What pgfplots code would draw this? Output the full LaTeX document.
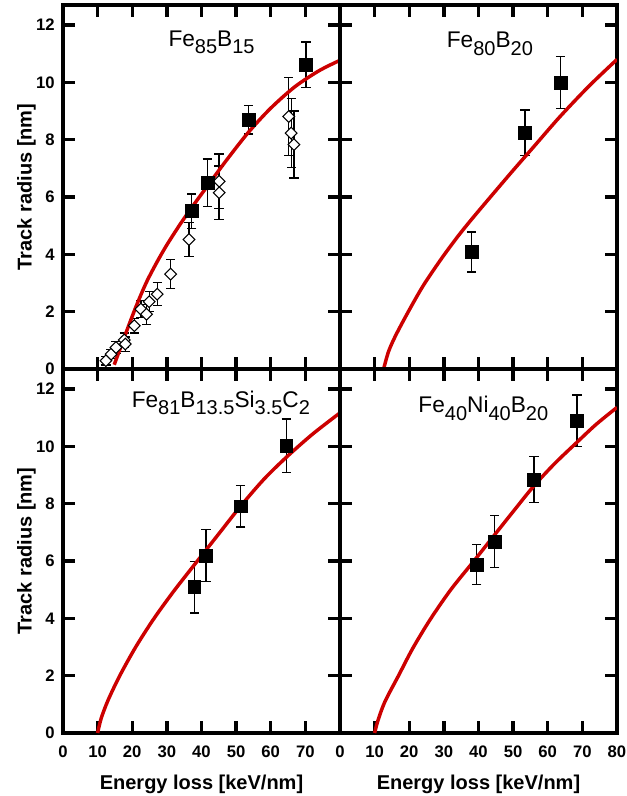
\documentclass[border=0pt]{standalone}
\usepackage{fontspec}
\setmainfont{Liberation Sans}
\usepackage{pgfplots}
\pgfplotsset{compat=1.18}
\usepackage{pgfplotstable}
\usepgfplotslibrary{groupplots}
\usetikzlibrary{calc}

\definecolor{fitred}{RGB}{204,0,0}
\newcommand{\sub}[1]{\raisebox{-5.5pt}{\fontsize{15}{15}\selectfont #1}}
% inward ticks drawn inside the current axis (9pt = 3.46 x-units = 0.42 y-units)
\newcommand{\boxticks}{%
  \pgfplotsinvokeforeach{10,20,30,40,50,60,70}{
    \draw[black, line width=2.6pt] (axis cs:##1,0) -- (axis cs:##1,0.42);
    \draw[black, line width=2.6pt] (axis cs:##1,12.7) -- (axis cs:##1,12.28);
  }
  \pgfplotsinvokeforeach{2,4,6,8,10,12}{
    \draw[black, line width=2.6pt] (axis cs:0,##1) -- (axis cs:3.46,##1);
    \draw[black, line width=2.6pt] (axis cs:80,##1) -- (axis cs:76.54,##1);
  }}

% Fe85B15
\pgfplotstableread{
x y e
37.2 5.51 0.60
41.7 6.50 0.83
53.6 8.70 0.50
70.2 10.61 0.80
}\sqA
\pgfplotstableread{
x y e
12.4 0.29 0.15
13.9 0.52 0.15
15.3 0.75 0.20
17.7 1.01 0.25
18.0 0.87 0.25
20.6 1.51 0.25
22.5 2.09 0.30
24.1 1.91 0.35
24.9 2.35 0.35
27.2 2.61 0.40
31.1 3.31 0.50
36.4 4.52 0.60
45.1 6.15 0.93
45.1 6.55 0.95
65.2 8.81 1.35
65.9 8.23 1.20
66.7 7.83 1.17
}\diaA
\pgfplotstableread{
x y
14.8 0.15
18.0 1.20
21.0 2.15
24.0 3.00
27.0 3.70
30.0 4.33
34.0 5.08
38.0 5.77
42.0 6.43
47.0 7.25
53.5 8.25
60.0 9.10
67.0 9.85
74.0 10.41
80.0 10.77
}\fitA
% Fe80B20
\pgfplotstableread{
x y e
38.0 4.08 0.70
53.4 8.24 0.80
63.7 10.00 0.90
}\sqB
\pgfplotstableread{
x y
12.6 0
14.0 0.60
16.0 1.15
19.6 1.97
24.0 2.90
29.3 3.85
34.0 4.62
38.0 5.22
44.0 6.08
50.0 6.93
56.0 7.76
63.5 8.80
72.0 9.88
80.0 10.80
}\fitB
% Fe81B13.5Si3.5C2
\pgfplotstableread{
x y e
37.9 5.09 0.90
41.3 6.19 0.90
51.3 7.91 0.72
64.5 10.03 0.93
}\sqC
\pgfplotstableread{
x y
10.0 0
11.0 0.50
13.0 1.14
16.4 2.00
21.0 3.00
26.2 3.98
32.0 4.95
38.8 6.00
45.0 6.95
51.2 7.90
58.0 8.85
64.5 9.62
72.0 10.42
80.0 11.17
}\fitC
% Fe40Ni40B20
\pgfplotstableread{
x y e
39.5 5.88 0.70
44.7 6.68 0.90
56.0 8.84 0.80
68.5 10.89 0.90
}\sqD
\pgfplotstableread{
x y
10.0 0
11.0 0.45
13.0 1.10
16.9 2.00
21.0 2.95
26.0 3.95
32.0 5.00
39.0 6.05
44.7 6.92
50.5 7.80
56.0 8.62
62.0 9.40
68.5 10.15
74.0 10.77
80.0 11.36
}\fitD

\pgfplotsset{
  sq/.style={only marks, mark=square*, mark size=4.8pt, black,
    error bars/.cd, y dir=both, y explicit,
    error bar style={line width=1pt, black},
    error mark options={rotate=90, mark size=3.5pt, line width=1pt, black}},
  dia/.style={only marks, mark=square*, mark size=3.1pt,
    mark options={rotate=45, fill=white, draw=black, line width=0.8pt},
    error bars/.cd, y dir=both, y explicit,
    error bar style={line width=1pt, black},
    error mark options={rotate=90, mark size=3.5pt, line width=1pt, black}},
  fitcurve/.style={fitred, line width=2.6pt, smooth, tension=0.5, no marks},
}

\begin{document}
\begin{tikzpicture}
\begin{groupplot}[
  group style={group size=2 by 2, horizontal sep=0pt, vertical sep=0pt,
    xticklabels at=edge bottom, yticklabels at=edge left},
  width=207.75pt, height=273pt, scale only axis,
  xmin=0, xmax=80, ymin=0, ymax=12.7,
  xtick={0,10,...,80}, ytick={0,2,...,12},
  tick align=inside,
  axis line style={line width=3pt},
  tick style={black, line width=2.5pt},
  major tick length=9pt,
  /pgf/number format/assume math mode=true,
  ticklabel style={font=\bfseries\fontsize{12.5}{12.5}\selectfont},
  xticklabel style={anchor=north, inner sep=0pt, yshift=-9.75pt},
  yticklabel style={anchor=east, inner sep=0pt, xshift=-6pt},
]
\nextgroupplot
\boxticks
\addplot[dia] table[x=x, y=y, y error=e] {\diaA};
\addplot[sq] table[x=x, y=y, y error=e] {\sqA};
\addplot[fitcurve] table[x=x, y=y] {\fitA};
\node[anchor=base, font=\fontsize{17}{17}\selectfont] at (axis cs:42.9,11.25) {Fe\sub{85}B\sub{15}};

\nextgroupplot
\boxticks
\addplot[sq] table[x=x, y=y, y error=e] {\sqB};
\addplot[fitcurve] table[x=x, y=y] {\fitB};
\node[anchor=base, font=\fontsize{17}{17}\selectfont] at (axis cs:43.3,11.2) {Fe\sub{80}B\sub{20}};

\nextgroupplot[xticklabels={0,10,20,30,40,50,60,70,{}}]
\boxticks
\addplot[sq] table[x=x, y=y, y error=e] {\sqC};
\addplot[fitcurve] table[x=x, y=y] {\fitC};
\node[anchor=base, font=\fontsize{17}{17}\selectfont] at (axis cs:45.6,11.36) {Fe\sub{81}B\sub{13.5}Si\sub{3.5}C\sub{2}};

\nextgroupplot
\boxticks
\addplot[sq] table[x=x, y=y, y error=e] {\sqD};
\addplot[fitcurve] table[x=x, y=y] {\fitD};
\node[anchor=base, font=\fontsize{17}{17}\selectfont] at (axis cs:41.4,11.17) {Fe\sub{40}Ni\sub{40}B\sub{20}};
\end{groupplot}

\node[rotate=90, anchor=base, inner sep=0pt, font=\bfseries\fontsize{15}{15}\selectfont]
  at ($(group c1r1.west)+(-23.5pt,0)$) {Track radius [nm]};
\node[rotate=90, anchor=base, inner sep=0pt, font=\bfseries\fontsize{15}{15}\selectfont]
  at ($(group c1r2.west)+(-23.5pt,0)$) {Track radius [nm]};
\node[anchor=base, inner sep=0pt, font=\bfseries\fontsize{15}{15}\selectfont]
  at ($(group c1r2.south)+(0,-42.5pt)$) {Energy loss [keV/nm]};
\node[anchor=base, inner sep=0pt, font=\bfseries\fontsize{15}{15}\selectfont]
  at ($(group c2r2.south)+(0,-42.5pt)$) {Energy loss [keV/nm]};

% fix the page to the reference's margins
\path ($(group c1r2.south west)+(-47.25pt,-47.25pt)$)
  rectangle ($(group c2r1.north east)+(7.5pt,3.75pt)$);
\end{tikzpicture}
\end{document}
